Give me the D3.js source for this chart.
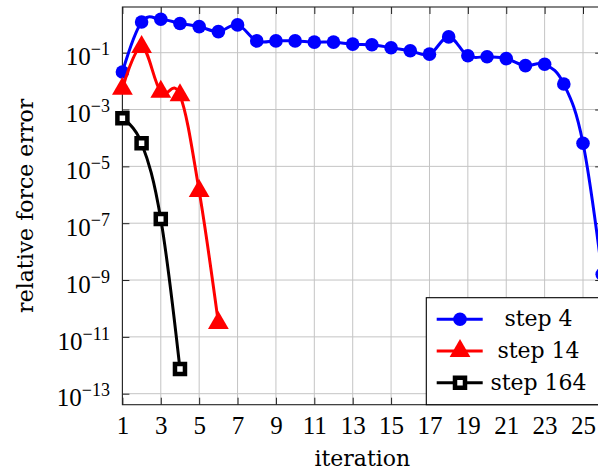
<!DOCTYPE html>
<html>
<head>
<meta charset="utf-8">
<script src="https://cdn.jsdelivr.net/npm/d3@7"></script>
<style>
  body { margin: 0; background: #fff; }
  svg { display: block; overflow: hidden; }
</style>
</head>
<body>
<svg id="chart" width="598" height="472"></svg>
<script>
// data
const step4Iter = [1, 2, 3, 4, 5, 6, 7, 8, 9, 10, 11, 12, 13, 14, 15, 16, 17, 18, 19, 20, 21, 22, 23, 24, 25, 26];
const step4Err = [2.1e-2, 1.2, 1.5, 1.07, 0.83, 0.55, 0.95, 0.26, 0.26, 0.26, 0.235, 0.235, 0.2, 0.19,
                  0.15, 0.117, 0.089, 0.36, 0.078, 0.072, 0.062, 0.035, 0.039, 7.9e-3, 6.5e-5, 1.6e-9];
const step14Iter = [1, 2, 3, 4, 5, 6];
const step14Err = [5.4e-3, 0.16, 4.2e-3, 3.2e-3, 1.35e-6, 3.1e-11];
const step164Iter = [1, 2, 3, 4];
const step164Err = [4.9e-4, 6.5e-5, 1.4e-7, 7.4e-13];

const xTicks = [1, 3, 5, 7, 9, 11, 13, 15, 17, 19, 21, 23, 25];
const yTickExps = [-1, -3, -5, -7, -9, -11, -13];
const legendLabels = ["step 4", "step 14", "step 164"];

const W = 598, H = 472;
const box = { left: 122.4, right: 602.2, top: 7, bottom: 404.7 };
const wordFont = "'DejaVu Serif', serif";
const numFont = "'Liberation Serif', serif";

const svg = d3.select("#chart");

const x = d3.scaleLinear().domain([1, 26]).range([box.left, box.right]);
const y = d3.scaleLog()
  .domain([Math.pow(10, -13.387), Math.pow(10, 0.608)])
  .range([box.bottom, box.top]);

const yTicks = yTickExps.map(e => Math.pow(10, e));

// grid
const grid = svg.append("g").attr("stroke", "#c4c4c4").attr("stroke-width", 1);
grid.selectAll(".vg").data(xTicks).enter().append("line")
  .attr("x1", d => x(d)).attr("x2", d => x(d))
  .attr("y1", box.top).attr("y2", box.bottom);
grid.selectAll(".hg").data(yTicks).enter().append("line")
  .attr("x1", box.left).attr("x2", box.right)
  .attr("y1", d => y(d)).attr("y2", d => y(d));

// axes (ticks point inward)
const gx = svg.append("g").attr("transform", `translate(0,${box.bottom})`)
  .call(d3.axisBottom(x).tickValues(xTicks).tickSizeInner(-7).tickSizeOuter(0).tickPadding(12));
gx.selectAll(".tick text").attr("font-family", numFont).attr("font-size", 25).attr("fill", "#000");

svg.append("g").attr("transform", `translate(0,${box.top})`)
  .call(d3.axisTop(x).tickValues(xTicks).tickSizeInner(-7).tickSizeOuter(0).tickFormat(""));

const gy = svg.append("g").attr("transform", `translate(${box.left},0)`)
  .call(d3.axisLeft(y).tickValues(yTicks).tickSizeInner(-7).tickSizeOuter(0).tickFormat(""));
gy.selectAll(".tick text").each(function(d) {
  const t = d3.select(this).text(null)
    .attr("x", -12.4).attr("dy", null).attr("y", 12.2)
    .attr("font-family", numFont).attr("font-size", 25).attr("fill", "#000");
  t.append("tspan").text("10");
  t.append("tspan").attr("dy", -10).attr("font-size", 18)
    .text("\u2212" + Math.abs(Math.round(Math.log10(d))));
});

svg.append("g").attr("transform", `translate(${box.right},0)`)
  .call(d3.axisRight(y).tickValues(yTicks).tickSizeInner(-7).tickSizeOuter(0).tickFormat(""));

svg.selectAll(".domain").remove();
svg.selectAll(".tick line").attr("stroke", "#222").attr("stroke-width", 1);

svg.append("rect")
  .attr("x", box.left).attr("y", box.top)
  .attr("width", box.right - box.left).attr("height", box.bottom - box.top)
  .attr("fill", "none").attr("stroke", "#222").attr("stroke-width", 1.1);

// axis labels
svg.append("text")
  .attr("x", (box.left + box.right) / 2).attr("y", 466)
  .attr("text-anchor", "middle")
  .attr("font-family", wordFont).attr("font-size", 22)
  .text("iteration");

svg.append("text")
  .attr("transform", `translate(33,${(box.top + box.bottom) / 2}) rotate(-90)`)
  .attr("text-anchor", "middle")
  .attr("font-family", wordFont).attr("font-size", 22)
  .text("relative force error");

// series
svg.append("clipPath").attr("id", "plotclip")
  .append("rect")
  .attr("x", box.left).attr("y", box.top)
  .attr("width", box.right - box.left).attr("height", box.bottom - box.top);

const series = [
  { name: legendLabels[0], iter: step4Iter, err: step4Err, color: "#0000ff", mark: "circle" },
  { name: legendLabels[1], iter: step14Iter, err: step14Err, color: "#ff0000", mark: "triangle" },
  { name: legendLabels[2], iter: step164Iter, err: step164Err, color: "#000000", mark: "square" }
];

const line = d3.line()
  .x(d => x(d[0]))
  .y(d => y(d[1]))
  .curve(d3.curveCardinal.tension(-0.1));

function drawMark(g, s, cx, cy) {
  if (s.mark === "circle") {
    g.append("circle").attr("cx", cx).attr("cy", cy).attr("r", 6.8)
      .attr("fill", s.color);
  } else if (s.mark === "triangle") {
    g.append("path")
      .attr("d", d3.symbol(d3.symbolTriangle, 1.299 * 12 * 12)())
      .attr("transform", `translate(${cx},${cy})`)
      .attr("fill", s.color);
  } else {
    g.append("path")
      .attr("d", d3.symbol(d3.symbolSquare, 10 * 10)())
      .attr("transform", `translate(${cx},${cy})`)
      .attr("fill", "#fff").attr("stroke", s.color).attr("stroke-width", 4.5);
  }
}

series.forEach(s => {
  const pts = s.iter.map((it, i) => [it, s.err[i]]);
  svg.append("path")
    .attr("d", line(pts))
    .attr("clip-path", "url(#plotclip)")
    .attr("fill", "none")
    .attr("stroke", s.color)
    .attr("stroke-width", 3)
    .attr("stroke-linejoin", "round");
  const gm = svg.append("g");
  pts.forEach(p => drawMark(gm, s, x(p[0]), y(p[1])));
});

// legend
const leg = svg.append("g");
leg.append("rect")
  .attr("x", 426.3).attr("y", 297.7)
  .attr("width", 180).attr("height", box.bottom - 297.7)
  .attr("fill", "#fff").attr("stroke", "#000").attr("stroke-width", 1.1);

const rowY = [319.3, 351, 382.7];
series.forEach((s, i) => {
  leg.append("line")
    .attr("x1", 436.7).attr("x2", 482.7)
    .attr("y1", rowY[i]).attr("y2", rowY[i])
    .attr("stroke", s.color).attr("stroke-width", 3);
  drawMark(leg, s, 460, rowY[i]);
  leg.append("text")
    .attr("x", 538.5).attr("y", rowY[i] + 7)
    .attr("text-anchor", "middle")
    .attr("font-family", wordFont).attr("font-size", 22)
    .text(s.name);
});
</script>
</body>
</html>
